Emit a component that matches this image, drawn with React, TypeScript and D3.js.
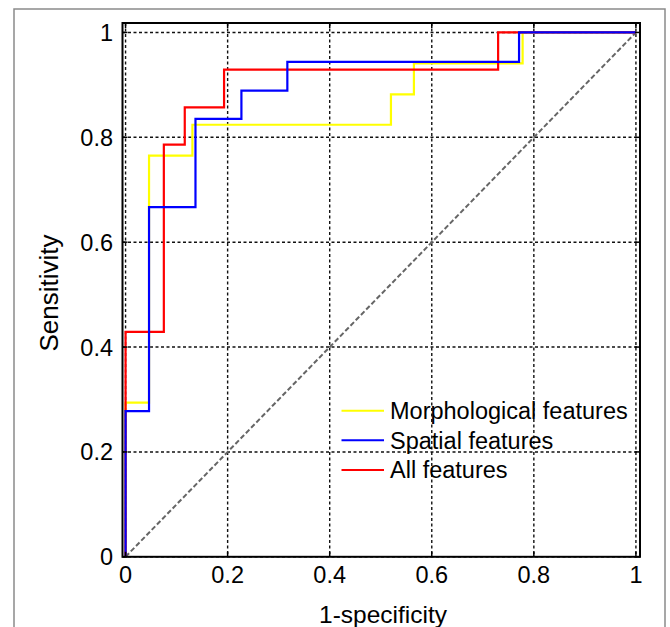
import React from "react";
import * as d3 from "d3";

// ROC operating points (corner points of each staircase)
const morphFpr = [0, 0, 0.046, 0.131, 0.52, 0.565, 0.778, 1];
const morphTpr = [0, 0.294, 0.765, 0.824, 0.882, 0.941, 1, 1];
const spatialFpr = [0, 0, 0.046, 0.137, 0.227, 0.317, 0.771, 1];
const spatialTpr = [0, 0.278, 0.667, 0.835, 0.889, 0.944, 1, 1];
const allFpr = [0, 0, 0.075, 0.116, 0.193, 0.73, 1];
const allTpr = [0, 0.429, 0.786, 0.857, 0.929, 1, 1];

const seriesNames = ["Morphological features", "Spatial features", "All features"];
const seriesColors = ["#ffff00", "#0000ff", "#ff0000"];

const xTicks = [0, 0.2, 0.4, 0.6, 0.8, 1];
const yTicks = [0, 0.2, 0.4, 0.6, 0.8, 1];
const xTickLabels = ["0", "0.2", "0.4", "0.6", "0.8", "1"];
const yTickLabels = ["0", "0.2", "0.4", "0.6", "0.8", "1"];

const FONT = "'Liberation Sans', Arial, sans-serif";

export default function App() {
  const W = 670;
  const H = 627;
  const x = d3.scaleLinear().domain([-0.006, 1.008]).range([122.5, 640]);
  const y = d3.scaleLinear().domain([0, 1.018]).range([556.8, 23]);
  const [bx0, bx1] = x.range();
  const [by0, by1] = y.range();

  const line = d3
    .line<[number, number]>()
    .x((d) => x(d[0]))
    .y((d) => y(d[1]))
    .curve(d3.curveStepAfter);

  const series = [
    { fpr: morphFpr, tpr: morphTpr },
    { fpr: spatialFpr, tpr: spatialTpr },
    { fpr: allFpr, tpr: allTpr },
  ];
  // drawing order: yellow, red, blue (blue on top)
  const drawOrder = [0, 2, 1];

  const tickLen = 5;
  const tickFs = 23.5;

  return (
    <svg
      width={W}
      height={H}
      style={{ position: "absolute", left: 0, top: 0, background: "#fff" }}
      fontFamily={FONT}
    >
      <rect x={0} y={0} width={W} height={H} fill="#fff" />
      {/* outer frame */}
      <rect x={14} y={9} width={651} height={640} fill="none" stroke="#8a8a8a" strokeWidth={1.5} />

      {/* grid */}
      {xTicks.map((t, i) => (
        <line
          key={"gx" + i}
          x1={x(t)}
          x2={x(t)}
          y1={by1}
          y2={by0}
          stroke="#111"
          strokeWidth={1.4}
          strokeDasharray="3,2.5"
        />
      ))}
      {yTicks.map((t, i) => (
        <line
          key={"gy" + i}
          x1={bx0}
          x2={bx1}
          y1={y(t)}
          y2={y(t)}
          stroke="#111"
          strokeWidth={1.4}
          strokeDasharray="3,2.5"
        />
      ))}

      {/* chance diagonal */}
      <line
        x1={x(0)}
        y1={y(0)}
        x2={x(1)}
        y2={y(1)}
        stroke="#666"
        strokeWidth={2}
        strokeDasharray="5,2.5"
      />

      {/* ROC curves */}
      {drawOrder.map((si) => {
        const s = series[si];
        const pts: [number, number][] = s.fpr.map((f, j) => [f, s.tpr[j]]);
        return (
          <path
            key={"s" + si}
            d={line(pts) || ""}
            fill="none"
            stroke={seriesColors[si]}
            strokeWidth={2.2}
          />
        );
      })}

      {/* axes box */}
      <rect
        x={bx0}
        y={by1}
        width={bx1 - bx0}
        height={by0 - by1}
        fill="none"
        stroke="#000"
        strokeWidth={2}
      />
      {/* ticks */}
      {xTicks.map((t, i) => (
        <g key={"tx" + i}>
          <line x1={x(t)} x2={x(t)} y1={by0} y2={by0 - tickLen} stroke="#000" strokeWidth={1.5} />
          <line x1={x(t)} x2={x(t)} y1={by1} y2={by1 + tickLen} stroke="#000" strokeWidth={1.5} />
          <text x={x(t)} y={582.5} textAnchor="middle" fontSize={tickFs} fill="#000">
            {xTickLabels[i]}
          </text>
        </g>
      ))}
      {yTicks.map((t, i) => (
        <g key={"ty" + i}>
          <line x1={bx0} x2={bx0 + tickLen} y1={y(t)} y2={y(t)} stroke="#000" strokeWidth={1.5} />
          <line x1={bx1} x2={bx1 - tickLen} y1={y(t)} y2={y(t)} stroke="#000" strokeWidth={1.5} />
          <text x={113} y={y(t) + 8.5} textAnchor="end" fontSize={tickFs} fill="#000">
            {yTickLabels[i]}
          </text>
        </g>
      ))}

      {/* axis titles */}
      <text x={383} y={623} textAnchor="middle" fontSize={24.5} fill="#000">
        1-specificity
      </text>
      <text
        transform="translate(58,293) rotate(-90)"
        textAnchor="middle"
        fontSize={26}
        fill="#000"
      >
        Sensitivity
      </text>

      {/* legend */}
      {seriesNames.map((n, i) => {
        const ly = 410.7 + i * 29.6;
        return (
          <g key={"lg" + i}>
            <line x1={341.5} x2={384} y1={ly} y2={ly} stroke={seriesColors[i]} strokeWidth={2} />
            <text x={390} y={ly + 8.5} fontSize={23.5} fill="#000">
              {n}
            </text>
          </g>
        );
      })}
    </svg>
  );
}
